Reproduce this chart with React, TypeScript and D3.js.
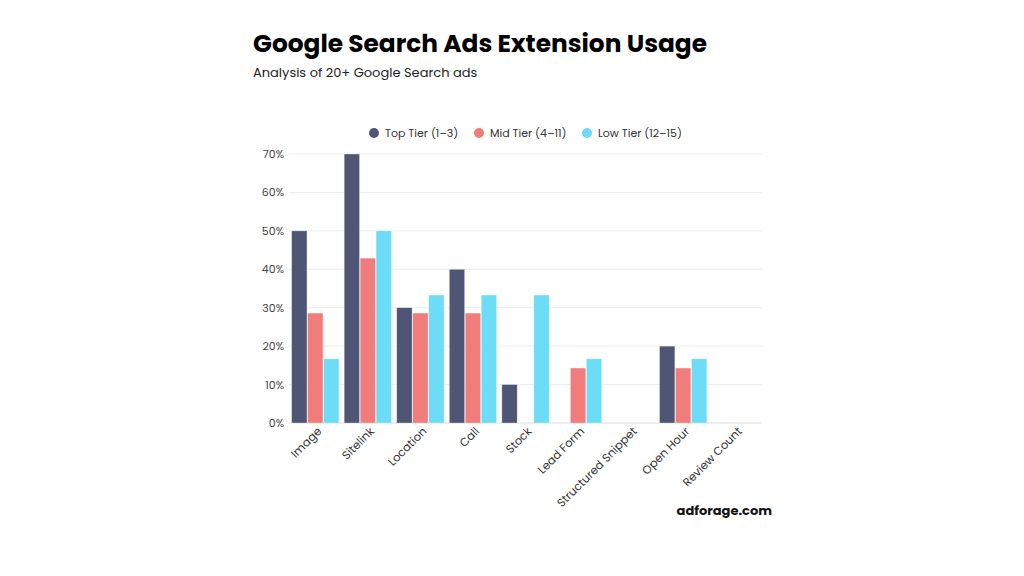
import React from "react";
import * as d3 from "d3";

const categories = ["Image", "Sitelink", "Location", "Call", "Stock", "Lead Form", "Structured Snippet", "Open Hour", "Review Count"];
const seriesNames = ["Top Tier (1–3)", "Mid Tier (4–11)", "Low Tier (12–15)"];
const topTier = [50, 70, 30, 40, 10, 0, 0, 20, 0];
const midTier = [28.6, 42.9, 28.6, 28.6, 0, 14.3, 0, 14.3, 0];
const lowTier = [16.7, 50, 33.3, 33.3, 33.3, 16.7, 0, 16.7, 0];
const yTicks = [0, 10, 20, 30, 40, 50, 60, 70];
const colors = ["#4f5675", "#f07c7c", "#6cdcf7"];

const FONT = "Poppins, Inter, 'Open Sans', sans-serif";

export default function App() {
  const width = 1024;
  const height = 576;
  const plot = { left: 289, right: 762, top: 154, bottom: 423 };

  const series = [topTier, midTier, lowTier];

  const x0 = d3.scaleBand<string>()
    .domain(categories)
    .range([plot.left, plot.right])
    .paddingInner(0.1)
    .paddingOuter(0.05);

  const x1 = d3.scaleBand<number>()
    .domain([0, 1, 2])
    .range([0, x0.bandwidth()])
    .paddingInner(0.04);

  const y = d3.scaleLinear().domain([0, 70]).range([plot.bottom, plot.top]);

  const legendX = [369, 474, 582];

  return (
    <svg width={width} height={height} style={{ display: "block", margin: -8, fontFamily: FONT }}>
      <rect width={width} height={height} fill="#ffffff" />

      {/* Title */}
      <text x={253} y={52} fontSize={25} fontWeight={700} fill="#000" textLength={454} lengthAdjust="spacingAndGlyphs">
        Google Search Ads Extension Usage
      </text>
      <text x={253} y={77} fontSize={13} fill="#222">
        Analysis of 20+ Google Search ads
      </text>

      {/* Legend */}
      {seriesNames.map((name, i) => (
        <g key={name} transform={`translate(${legendX[i]}, 133)`}>
          <circle cx={5} cy={0} r={5} fill={colors[i]} />
          <text x={16} y={4} fontSize={11} fill="#333">{name}</text>
        </g>
      ))}

      {/* Grid + y ticks */}
      {yTicks.map((t) => (
        <g key={t}>
          <line
            x1={plot.left}
            x2={plot.right}
            y1={y(t)}
            y2={y(t)}
            stroke={t === 0 ? "#dcdcdc" : "#ececec"}
            strokeWidth={1}
          />
          <text x={284} y={y(t) + 4} fontSize={11} fill="#444" textAnchor="end">{`${t}%`}</text>
        </g>
      ))}

      {/* Bars */}
      {categories.map((c, ci) => (
        <g key={c} transform={`translate(${x0(c)}, 0)`}>
          {series.map((s, si) =>
            s[ci] > 0 ? (
              <rect
                key={si}
                x={x1(si)}
                y={y(s[ci])}
                width={x1.bandwidth()}
                height={y(0) - y(s[ci])}
                fill={colors[si]}
                stroke="rgba(255,255,255,0.5)"
                strokeWidth={0.6}
              />
            ) : null
          )}
        </g>
      ))}

      {/* X labels */}
      {categories.map((c) => {
        const cx = (x0(c) ?? 0) + x0.bandwidth() / 2 + 7;
        return (
          <text
            key={c}
            transform={`translate(${cx}, 432) rotate(-45)`}
            fontSize={11.5}
            fill="#333"
            textAnchor="end"
          >
            {c}
          </text>
        );
      })}

      {/* Watermark */}
      <text x={772} y={515} fontSize={13} fontWeight={700} fill="#111" textAnchor="end">
        adforage.com
      </text>
    </svg>
  );
}
